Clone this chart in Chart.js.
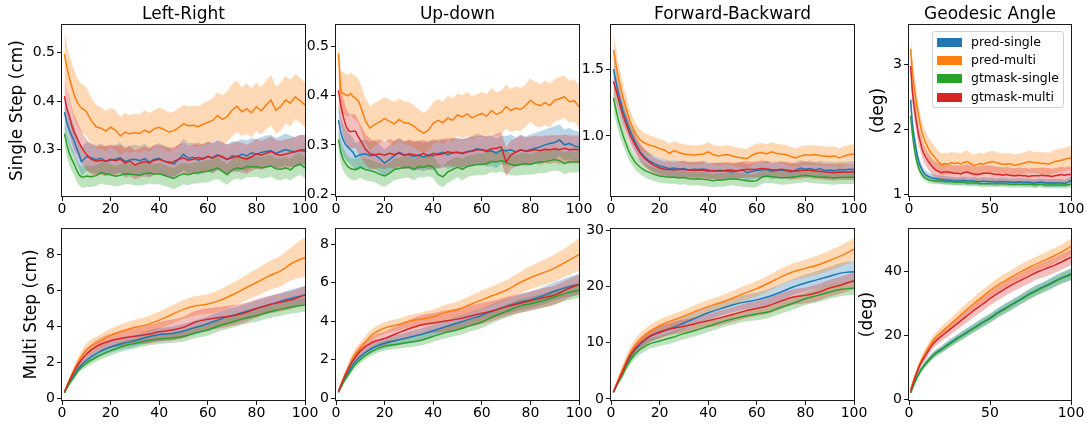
<!DOCTYPE html>
<html>
<head>
<meta charset="utf-8">
<script src="https://cdn.jsdelivr.net/npm/chart.js@4.4.1/dist/chart.umd.min.js"></script>
<style>
  html, body { margin: 0; padding: 0; background: #fff; }
  body { width: 1087px; height: 424px; position: relative; overflow: hidden; font-family: 'DejaVu Sans', sans-serif; }
  canvas { position: absolute; }
  .ptitle { position: absolute; top: 3px; width: 260px; height: 20px; line-height: 20px; font-size: 17px; text-align: center; color: #000; }
  #legend { position: absolute; left: 932px; top: 31px; width: 132px; height: 77px; box-sizing: border-box; border: 1px solid #d2d2d2; border-radius: 3px; background: rgba(255,255,255,0.85); z-index: 5; }
  .lpatch { position: absolute; left: 4px; width: 25px; height: 9px; }
  .ltext { position: absolute; left: 38px; height: 14px; line-height: 14px; font-size: 12.5px; color: #000; white-space: nowrap; }
</style>
</head>
<body>
<script>
// ---------------- categories / labels ----------------
const seriesNames = ['pred-single', 'pred-multi', 'gtmask-single', 'gtmask-multi'];
const seriesColors = ['#1f77b4', '#ff7f0e', '#2ca02c', '#d62728'];
const panelTitles = ['Left-Right', 'Up-down', 'Forward-Backward', 'Geodesic Angle'];
const rowLabels = ['Single Step (cm)', 'Multi Step (cm)'];
const angleLabel = '(deg)';

// ---------------- tick values ----------------
const xTicks20 = [0, 20, 40, 60, 80, 100];
const xTicks50 = [0, 50, 100];
const lrTopTicks = [0.3, 0.4, 0.5];
const udTopTicks = [0.2, 0.3, 0.4, 0.5];
const fbTopTicks = [1.0, 1.5];
const gaTopTicks = [1, 2, 3];
const lrBotTicks = [0, 2, 4, 6, 8];
const udBotTicks = [0, 2, 4, 6, 8];
const fbBotTicks = [0, 10, 20, 30];
const gaBotTicks = [0, 20, 40];

// ---------------- x steps ----------------
const topSteps = [1,2,3,4,5,6,7,8,9,10,
  12,14,16,18,20, 22,24,26,28,30, 32,34,36,38,40, 42,44,46,48,50, 52,54,56,58,60,
  62,64,66,68,70, 72,74,76,78,80, 82,84,86,88,90, 92,94,96,98,100];
const botSteps = [1,3,5,7,10,15,20,25,30,35,40,45,50,55,60,65,70,75,80,85,90,95,100];

// ================= SINGLE STEP: Left-Right =================
const lrPredSingle = [.377,.355,.34,.328,.318,.303,.29,.275,.28,.285,
  .283,.279,.282,.276,.278, .28,.283,.275,.279,.28, .277,.281,.274,.28,.282, .276,.274,.27,.28,.29,
  .282,.284,.278,.282,.285, .283,.289,.284,.279,.287, .285,.29,.287,.293,.29, .294,.296,.298,.292,.296,
  .3,.297,.295,.298,.296];
const lrPredSingleSd = [.035,.034,.033,.032,.031,.030,.030,.030,.030,.030,
  .030,.029,.030,.030,.029, .030,.031,.030,.029,.030, .030,.031,.030,.030,.031, .032,.031,.030,.031,.032,
  .031,.030,.031,.030,.031, .031,.032,.030,.031,.030, .032,.031,.032,.030,.031, .032,.033,.032,.031,.032,
  .033,.032,.031,.032,.033];
const lrPredMulti = [.497,.47,.448,.43,.413,.4,.392,.385,.383,.378,
  .36,.347,.344,.338,.346, .34,.328,.336,.332,.335, .333,.34,.335,.343,.346, .341,.336,.339,.345,.353,
  .349,.35,.347,.352,.356, .36,.37,.362,.368,.381, .389,.378,.384,.376,.388, .38,.392,.402,.381,.389,
  .402,.396,.409,.401,.392];
const lrPredMultiSd = [.046,.047,.048,.049,.050,.050,.050,.050,.050,.050,
  .047,.045,.043,.042,.040, .041,.039,.040,.039,.039, .040,.041,.040,.039,.040, .041,.040,.039,.040,.039,
  .040,.041,.042,.043,.044, .046,.048,.050,.052,.054, .053,.050,.052,.051,.050, .049,.050,.052,.049,.050,
  .049,.048,.047,.046,.046];
const lrGtSingle = [.333,.31,.292,.28,.27,.258,.248,.243,.243,.245,
  .244,.246,.252,.25,.248, .245,.247,.25,.249,.248, .247,.25,.252,.249,.25, .247,.243,.24,.246,.25,
  .248,.251,.252,.254,.255, .258,.262,.255,.248,.258, .262,.26,.265,.264,.265, .262,.264,.266,.26,.259,
  .262,.258,.266,.27,.262];
const lrGtSingleSd = [.025,.025,.024,.024,.023,.023,.022,.022,.022,.022,
  .022,.021,.022,.023,.022, .021,.022,.022,.021,.022, .022,.023,.022,.021,.022, .022,.021,.022,.023,.022,
  .022,.021,.022,.022,.023, .022,.023,.022,.021,.022, .022,.023,.022,.022,.021, .022,.023,.022,.022,.023,
  .022,.022,.023,.022,.022];
const lrGtMulti = [.41,.385,.37,.35,.335,.325,.315,.305,.297,.29,
  .28,.276,.278,.276,.28, .277,.28,.272,.276,.268, .272,.275,.272,.278,.28, .276,.272,.275,.28,.283,
  .278,.28,.284,.28,.286, .282,.288,.285,.28,.283, .286,.283,.28,.285,.291, .288,.292,.296,.29,.288,
  .29,.293,.296,.299,.3];
const lrGtMultiSd = [.040,.039,.038,.037,.036,.035,.034,.033,.032,.032,
  .031,.030,.030,.031,.030, .030,.029,.030,.031,.030, .030,.031,.030,.030,.029, .030,.031,.030,.030,.031,
  .030,.030,.031,.030,.030, .031,.030,.030,.031,.030, .030,.031,.030,.030,.031, .030,.030,.031,.030,.030,
  .031,.030,.030,.031,.030];

// ================= SINGLE STEP: Up-down =================
const udPredSingle = [.351,.325,.31,.3,.295,.29,.285,.275,.278,.28,
  .282,.278,.28,.272,.263, .27,.278,.285,.28,.28, .276,.28,.275,.28,.278, .282,.285,.28,.284,.285,
  .282,.286,.288,.292,.29, .286,.288,.283,.29,.288, .29,.285,.29,.287,.29, .293,.296,.3,.303,.305,
  .31,.3,.303,.298,.295];
const udPredSingleSd = [.034,.033,.032,.031,.030,.030,.029,.029,.029,.029,
  .029,.028,.029,.029,.028, .029,.030,.029,.028,.029, .029,.030,.029,.029,.030, .029,.028,.029,.030,.029,
  .030,.029,.030,.031,.030, .030,.031,.030,.029,.030, .031,.030,.031,.030,.031, .031,.032,.031,.032,.033,
  .032,.031,.032,.031,.032];
const udPredMulti = [.486,.408,.405,.402,.4,.405,.398,.395,.39,.38,
  .35,.334,.342,.347,.354, .348,.343,.352,.345,.344, .338,.33,.324,.33,.344, .35,.345,.355,.35,.361,
  .357,.363,.355,.36,.364, .358,.37,.362,.366,.378, .37,.375,.372,.38,.391, .383,.38,.386,.38,.391,
  .394,.398,.388,.39,.378];
const udPredMultiSd = [.042,.042,.043,.043,.042,.043,.044,.045,.045,.046,
  .046,.045,.044,.044,.043, .044,.045,.043,.044,.044, .043,.042,.041,.042,.043, .044,.043,.045,.044,.043,
  .044,.045,.044,.043,.044, .045,.046,.045,.044,.045, .044,.045,.044,.043,.044, .045,.044,.045,.044,.043,
  .044,.043,.042,.043,.044];
const udGtSingle = [.311,.285,.27,.262,.255,.252,.25,.25,.252,.255,
  .25,.248,.245,.24,.237, .242,.25,.252,.254,.255, .25,.256,.254,.258,.255, .24,.235,.245,.25,.255,
  .25,.256,.258,.26,.26, .262,.266,.265,.268,.265, .26,.258,.26,.262,.26, .263,.265,.266,.268,.27,
  .268,.262,.266,.265,.266];
const udGtSingleSd = [.024,.024,.023,.023,.022,.022,.022,.022,.022,.022,
  .022,.022,.021,.022,.022, .021,.022,.022,.021,.022, .022,.022,.021,.022,.022, .022,.021,.022,.022,.021,
  .022,.022,.021,.022,.022, .022,.021,.022,.022,.023, .022,.021,.022,.022,.021, .022,.022,.023,.022,.022,
  .021,.022,.022,.021,.022];
const udGtMulti = [.411,.38,.357,.34,.33,.327,.328,.328,.318,.31,
  .292,.282,.28,.282,.279, .283,.28,.284,.278,.282, .28,.278,.283,.277,.283, .28,.282,.286,.284,.285,
  .283,.286,.287,.29,.29, .288,.292,.293,.296,.265, .28,.285,.29,.287,.288, .29,.288,.291,.29,.292,
  .29,.293,.29,.291,.29];
const udGtMultiSd = [.040,.039,.038,.037,.036,.035,.035,.034,.033,.032,
  .031,.030,.029,.029,.028, .029,.028,.029,.028,.029, .028,.029,.028,.028,.029, .028,.029,.028,.029,.028,
  .029,.028,.029,.028,.029, .029,.028,.029,.030,.030, .029,.028,.029,.028,.029, .028,.029,.028,.029,.028,
  .029,.028,.029,.028,.029];

// ================= SINGLE STEP: Forward-Backward =================
const fbPredSingle = [1.5,1.41,1.32,1.25,1.18,1.13,1.08,1.03,.99,.95,
  .88,.84,.81,.79,.775, .765,.755,.76,.75,.755, .745,.75,.748,.752,.745, .735,.742,.74,.735,.73,
  .74,.745,.725,.735,.74, .745,.75,.735,.74,.745, .74,.73,.745,.76,.75, .755,.745,.755,.74,.745,
  .74,.748,.745,.75,.748];
const fbPredSingleSd = [.110,.100,.095,.090,.085,.080,.075,.070,.068,.066,
  .064,.062,.061,.060,.060, .060,.059,.060,.061,.060, .059,.060,.060,.061,.060, .059,.060,.061,.060,.059,
  .060,.061,.060,.059,.060, .061,.060,.060,.059,.060, .061,.060,.059,.060,.061, .060,.060,.059,.060,.061,
  .060,.059,.060,.060,.060];
const fbPredMulti = [1.644,1.54,1.437,1.36,1.285,1.22,1.159,1.1,1.06,1.02,
  .97,.945,.93,.92,.905, .895,.87,.89,.875,.865, .86,.855,.86,.865,.88, .86,.85,.855,.86,.85,
  .84,.835,.83,.855,.87, .875,.865,.88,.87,.865, .86,.845,.835,.85,.858, .855,.86,.852,.85,.845,
  .85,.835,.85,.86,.865];
const fbPredMultiSd = [.130,.120,.115,.110,.100,.095,.090,.085,.080,.078,
  .076,.074,.073,.072,.072, .071,.072,.073,.072,.071, .072,.073,.072,.071,.072, .073,.072,.071,.072,.073,
  .072,.071,.072,.073,.072, .071,.072,.073,.072,.071, .072,.073,.072,.071,.072, .073,.072,.071,.072,.073,
  .072,.071,.072,.073,.072];
const fbGtSingle = [1.285,1.2,1.12,1.06,1.0,.95,.9,.86,.83,.8,
  .765,.74,.725,.71,.7, .695,.69,.692,.685,.688, .68,.678,.68,.675,.672, .665,.672,.67,.675,.68,
  .675,.67,.665,.66,.665, .69,.7,.695,.69,.685, .688,.69,.695,.7,.705, .7,.695,.69,.692,.688,
  .685,.688,.69,.688,.69];
const fbGtSingleSd = [.100,.090,.085,.080,.075,.070,.065,.060,.058,.055,
  .053,.052,.051,.050,.050, .050,.049,.050,.051,.050, .049,.050,.050,.051,.050, .049,.050,.051,.050,.049,
  .050,.051,.050,.049,.050, .051,.050,.050,.049,.050, .051,.050,.049,.050,.051, .050,.050,.049,.050,.051,
  .050,.049,.050,.050,.050];
const fbGtMulti = [1.41,1.345,1.28,1.21,1.15,1.1,1.05,1.0,.965,.93,
  .87,.83,.8,.775,.76, .75,.748,.745,.75,.748, .745,.74,.745,.742,.735, .74,.735,.738,.745,.742,
  .738,.745,.75,.748,.75, .755,.752,.748,.745,.75, .745,.74,.735,.74,.745, .742,.738,.735,.73,.728,
  .725,.73,.728,.73,.73];
const fbGtMultiSd = [.100,.095,.090,.085,.080,.075,.072,.070,.068,.065,
  .063,.062,.061,.060,.060, .060,.059,.060,.061,.060, .059,.060,.060,.061,.060, .059,.060,.061,.060,.059,
  .060,.061,.060,.059,.060, .061,.060,.060,.059,.060, .061,.060,.059,.060,.061, .060,.060,.059,.060,.061,
  .060,.059,.060,.060,.060];

// ================= SINGLE STEP: Geodesic Angle =================
const gaPredSingle = [2.45,2.1,1.9,1.75,1.6,1.5,1.43,1.38,1.33,1.3,
  1.27,1.25,1.24,1.23,1.22, 1.22,1.21,1.21,1.2,1.2, 1.2,1.21,1.2,1.2,1.2, 1.19,1.19,1.2,1.19,1.19,
  1.19,1.18,1.19,1.19,1.19, 1.18,1.18,1.18,1.19,1.18, 1.18,1.18,1.17,1.17,1.18, 1.18,1.17,1.17,1.17,1.17,
  1.17,1.17,1.16,1.18,1.21];
const gaPredSingleSd = [.18,.15,.13,.11,.10,.09,.08,.075,.07,.065,
  .063,.062,.061,.06,.06, .06,.06,.061,.06,.06, .061,.06,.06,.06,.061, .06,.06,.061,.06,.06,
  .06,.061,.06,.06,.06, .061,.06,.06,.061,.06, .06,.06,.061,.06,.06, .061,.06,.06,.06,.061,
  .06,.06,.061,.06,.062];
const gaPredMulti = [3.23,2.9,2.68,2.5,2.33,2.2,2.06,1.95,1.87,1.8,
  1.7,1.62,1.56,1.5,1.45, 1.47,1.46,1.48,1.47,1.48, 1.46,1.49,1.5,1.47,1.44, 1.45,1.47,1.46,1.48,1.49,
  1.5,1.48,1.47,1.46,1.46, 1.47,1.45,1.44,1.46,1.47, 1.48,1.5,1.49,1.48,1.48, 1.47,1.47,1.46,1.48,1.5,
  1.51,1.52,1.53,1.55,1.55];
const gaPredMultiSd = [.26,.24,.22,.20,.19,.18,.175,.17,.17,.17,
  .17,.17,.17,.17,.17, .165,.165,.17,.165,.16, .165,.17,.165,.16,.165, .17,.165,.16,.165,.17,
  .165,.16,.165,.17,.165, .16,.165,.17,.165,.16, .165,.17,.17,.165,.17, .17,.175,.17,.175,.18,
  .18,.185,.18,.185,.19];
const gaGtSingle = [2.2,1.95,1.75,1.6,1.48,1.4,1.34,1.3,1.27,1.25,
  1.22,1.21,1.2,1.2,1.2, 1.19,1.19,1.19,1.18,1.18, 1.18,1.18,1.17,1.17,1.17, 1.17,1.16,1.16,1.16,1.16,
  1.16,1.16,1.16,1.16,1.16, 1.15,1.15,1.15,1.15,1.15, 1.15,1.15,1.15,1.14,1.15, 1.15,1.14,1.14,1.14,1.14,
  1.14,1.14,1.14,1.14,1.15];
const gaGtSingleSd = [.15,.12,.10,.085,.075,.065,.06,.055,.055,.05,
  .05,.05,.05,.05,.05, .05,.05,.051,.05,.05, .05,.051,.05,.05,.05, .051,.05,.05,.05,.051,
  .05,.05,.051,.05,.05, .05,.051,.05,.05,.05, .051,.05,.05,.05,.051, .05,.05,.051,.05,.05,
  .05,.051,.05,.05,.05];
const gaGtMulti = [2.97,2.6,2.38,2.2,2.04,1.9,1.8,1.7,1.63,1.58,
  1.5,1.43,1.38,1.35,1.33, 1.34,1.34,1.33,1.32,1.32, 1.31,1.33,1.34,1.32,1.31, 1.3,1.31,1.32,1.32,1.32,
  1.31,1.3,1.3,1.29,1.3, 1.29,1.28,1.28,1.29,1.28, 1.28,1.27,1.28,1.28,1.28, 1.29,1.28,1.28,1.27,1.28,
  1.29,1.3,1.29,1.3,1.3];
const gaGtMultiSd = [.22,.20,.18,.17,.16,.15,.14,.135,.13,.13,
  .125,.12,.12,.12,.12, .12,.12,.121,.12,.12, .12,.121,.12,.12,.12, .121,.12,.12,.12,.121,
  .12,.12,.121,.12,.12, .12,.121,.12,.12,.12, .121,.12,.12,.12,.121, .12,.12,.121,.12,.12,
  .12,.121,.12,.12,.12];

// ================= MULTI STEP: Left-Right =================
const msLrPredSingle = [.3,.85,1.3,1.7,2.1,2.55,2.85,3.05,3.2,3.4,3.55,3.6,3.75,3.95,4.15,4.4,4.6,4.8,5.0,5.2,5.4,5.6,5.75];
const msLrPredSingleSd = [.04,.1,.15,.2,.25,.28,.3,.32,.33,.35,.36,.37,.38,.4,.41,.42,.43,.44,.45,.46,.47,.48,.5];
const msLrPredMulti = [.35,1.0,1.58,2.1,2.7,3.13,3.5,3.75,3.95,4.1,4.35,4.65,4.95,5.15,5.25,5.45,5.75,6.1,6.45,6.8,7.1,7.55,7.85];
const msLrPredMultiSd = [.05,.15,.22,.28,.33,.36,.38,.4,.42,.45,.48,.5,.52,.54,.55,.6,.65,.7,.75,.8,.85,.95,1.1];
const msLrGtSingle = [.3,.8,1.2,1.6,1.95,2.35,2.65,2.9,3.05,3.2,3.3,3.35,3.45,3.65,3.8,4.05,4.25,4.45,4.6,4.8,4.95,5.1,5.2];
const msLrGtSingleSd = [.04,.1,.15,.18,.22,.25,.27,.28,.28,.28,.28,.28,.29,.3,.3,.31,.32,.33,.34,.35,.36,.37,.38];
const msLrGtMulti = [.35,.95,1.5,1.95,2.45,2.95,3.2,3.35,3.45,3.55,3.7,3.8,3.95,4.25,4.4,4.5,4.6,4.75,5.0,5.2,5.35,5.5,5.75];
const msLrGtMultiSd = [.05,.12,.2,.25,.3,.35,.38,.42,.45,.5,.55,.58,.6,.62,.62,.6,.58,.55,.52,.5,.5,.5,.5];

// ================= MULTI STEP: Up-down =================
const msUdPredSingle = [.3,.85,1.3,1.75,2.15,2.6,2.85,3.0,3.15,3.3,3.5,3.7,3.9,4.1,4.3,4.55,4.75,4.95,5.1,5.3,5.55,5.75,5.9];
const msUdPredSingleSd = [.04,.1,.15,.2,.22,.25,.27,.28,.3,.31,.32,.33,.34,.35,.36,.37,.38,.4,.42,.44,.46,.5,.55];
const msUdPredMulti = [.35,1.0,1.55,2.1,2.6,3.3,3.64,3.8,3.98,4.1,4.22,4.45,4.6,4.85,5.1,5.35,5.6,5.95,6.25,6.5,6.75,7.1,7.45];
const msUdPredMultiSd = [.05,.15,.22,.28,.3,.3,.3,.3,.32,.35,.38,.4,.42,.45,.48,.5,.52,.55,.6,.65,.7,.75,.85];
const msUdGtSingle = [.3,.8,1.2,1.6,2.0,2.45,2.7,2.8,2.9,3.0,3.2,3.4,3.55,3.75,3.95,4.25,4.5,4.75,4.9,5.05,5.25,5.45,5.6];
const msUdGtSingleSd = [.04,.1,.14,.18,.2,.22,.24,.25,.26,.27,.28,.29,.3,.3,.31,.32,.33,.34,.35,.36,.37,.38,.4];
const msUdGtMulti = [.35,.95,1.5,1.95,2.45,2.9,3.1,3.35,3.6,3.8,3.9,4.0,4.1,4.25,4.4,4.55,4.75,4.9,5.05,5.2,5.35,5.65,5.9];
const msUdGtMultiSd = [.05,.12,.2,.25,.3,.33,.36,.4,.45,.5,.52,.55,.55,.55,.55,.52,.5,.5,.5,.5,.5,.5,.5];

// ================= MULTI STEP: Forward-Backward =================
const msFbPredSingle = [1.2,3.2,5.0,6.8,8.8,10.8,11.9,12.6,13.5,14.4,15.3,16.0,16.7,17.2,17.6,18.2,19.0,19.9,20.6,21.2,21.8,22.4,22.6];
const msFbPredSingleSd = [.2,.4,.6,.8,.9,1.0,1.0,1.0,1.1,1.1,1.2,1.2,1.3,1.3,1.3,1.4,1.4,1.4,1.5,1.6,1.7,1.8,1.9];
const msFbPredMulti = [1.2,3.5,5.5,7.4,9.6,11.7,13.0,13.9,14.7,15.6,16.4,17.1,17.9,18.8,19.6,20.6,21.7,22.6,23.2,23.8,24.6,25.5,26.6];
const msFbPredMultiSd = [.2,.5,.8,1.0,1.1,1.1,1.1,1.1,1.1,1.2,1.2,1.2,1.3,1.3,1.4,1.4,1.5,1.5,1.6,1.7,1.8,1.9,2.0];
const msFbGtSingle = [1.2,2.9,4.5,6.2,8.0,9.6,10.3,10.9,11.6,12.2,12.9,13.6,14.2,14.7,15.1,15.5,16.3,17.0,17.8,18.4,19.0,19.5,19.7];
const msFbGtSingleSd = [.2,.4,.6,.7,.8,.9,.9,1.0,1.0,1.0,1.0,1.0,1.0,1.0,1.1,1.1,1.1,1.1,1.1,1.2,1.2,1.2,1.2];
const msFbGtMulti = [1.2,3.2,5.0,7.0,9.0,10.9,11.8,12.5,12.9,13.4,13.9,14.4,15.0,15.6,16.1,16.6,17.4,18.1,18.4,18.9,19.7,20.3,21.0];
const msFbGtMultiSd = [.2,.4,.6,.8,.9,1.0,1.1,1.1,1.2,1.2,1.2,1.3,1.3,1.3,1.3,1.4,1.4,1.4,1.4,1.5,1.5,1.5,1.5];

// ================= MULTI STEP: Geodesic Angle =================
const msGaPredSingle = [2.1,4.8,7.1,9.0,11.1,13.9,15.7,17.5,19.2,20.8,22.4,24.0,25.5,27.2,28.7,30.2,31.7,33.2,34.5,35.7,37.0,38.2,39.2];
const msGaPredSingleSd = [.3,.5,.7,.8,.9,1.0,1.1,1.2,1.2,1.3,1.3,1.4,1.4,1.4,1.5,1.5,1.5,1.6,1.6,1.6,1.7,1.7,1.8];
const msGaPredMulti = [3.0,6.2,9.0,11.5,14.5,18.5,21.0,23.2,25.5,27.8,30.0,32.0,34.0,35.8,37.3,38.8,40.2,41.5,42.7,43.8,45.0,46.3,47.8];
const msGaPredMultiSd = [.3,.6,.9,1.1,1.3,1.5,1.7,1.8,1.9,2.0,2.0,2.1,2.1,2.2,2.2,2.2,2.3,2.3,2.3,2.4,2.4,2.4,2.5];
const msGaGtSingle = [2.0,4.6,6.9,8.8,10.9,13.7,15.5,17.3,19.0,20.6,22.2,23.8,25.3,27.0,28.5,30.0,31.5,33.0,34.3,35.5,36.8,38.0,39.0];
const msGaGtSingleSd = [.3,.5,.7,.8,.9,1.0,1.1,1.2,1.2,1.3,1.3,1.4,1.4,1.4,1.5,1.5,1.5,1.6,1.6,1.6,1.7,1.7,1.8];
const msGaGtMulti = [2.5,5.7,8.5,11.0,13.5,17.5,19.8,21.8,23.8,25.8,27.8,29.6,31.5,33.2,34.8,36.2,37.5,38.8,40.0,41.0,42.0,43.2,44.5];
const msGaGtMultiSd = [.3,.6,.9,1.1,1.3,1.5,1.7,1.8,1.9,2.0,2.0,2.1,2.1,2.2,2.2,2.2,2.3,2.3,2.3,2.4,2.4,2.4,2.5];

// ---------------- layout of the 8 panels ----------------
const FONT = "'DejaVu Sans', sans-serif";
const colGeom = [ {L: 62, W: 243, wl: 62}, {L: 336, W: 243, wl: 40}, {L: 611, W: 243, wl: 40}, {L: 909, W: 162, wl: 54} ];
const rowGeom = [ {canvasTop: 0, padTop: 25, plotH: 171, xh: 28, smooth: false}, {canvasTop: 200, padTop: 29, plotH: 171, xh: 24, smooth: true} ];
const PAD_R = 16;

const panels = [
  {row:0, col:0, steps:topSteps, means:[lrPredSingle,lrPredMulti,lrGtSingle,lrGtMulti], sds:[lrPredSingleSd,lrPredMultiSd,lrGtSingleSd,lrGtMultiSd], ymin:0.204, ymax:0.557, yt:lrTopTicks, dec:1, xt:xTicks20, ylabel:rowLabels[0], tpad:7.3},
  {row:0, col:1, steps:topSteps, means:[udPredSingle,udPredMulti,udGtSingle,udGtMulti], sds:[udPredSingleSd,udPredMultiSd,udGtSingleSd,udGtMultiSd], ymin:0.196, ymax:0.544, yt:udTopTicks, dec:1, xt:xTicks20},
  {row:0, col:2, steps:topSteps, means:[fbPredSingle,fbPredMulti,fbGtSingle,fbGtMulti], sds:[fbPredSingleSd,fbPredMultiSd,fbGtSingleSd,fbGtMultiSd], ymin:0.55, ymax:1.83, yt:fbTopTicks, dec:1, xt:xTicks20},
  {row:0, col:3, steps:topSteps, means:[gaPredSingle,gaPredMulti,gaGtSingle,gaGtMulti], sds:[gaPredSingleSd,gaPredMultiSd,gaGtSingleSd,gaGtMultiSd], ymin:0.97, ymax:3.6, yt:gaTopTicks, dec:0, xt:xTicks50, ylabel:angleLabel, tpad:13.8},
  {row:1, col:0, steps:botSteps, means:[msLrPredSingle,msLrPredMulti,msLrGtSingle,msLrGtMulti], sds:[msLrPredSingleSd,msLrPredMultiSd,msLrGtSingleSd,msLrGtMultiSd], ymin:-0.1, ymax:9.43, yt:lrBotTicks, dec:0, xt:xTicks20, ylabel:rowLabels[1], tpad:21.8},
  {row:1, col:1, steps:botSteps, means:[msUdPredSingle,msUdPredMulti,msUdGtSingle,msUdGtMulti], sds:[msUdPredSingleSd,msUdPredMultiSd,msUdGtSingleSd,msUdGtMultiSd], ymin:-0.1, ymax:8.78, yt:udBotTicks, dec:0, xt:xTicks20},
  {row:1, col:2, steps:botSteps, means:[msFbPredSingle,msFbPredMulti,msFbGtSingle,msFbGtMulti], sds:[msFbPredSingleSd,msFbPredMultiSd,msFbGtSingleSd,msFbGtMultiSd], ymin:-0.2, ymax:30.2, yt:fbBotTicks, dec:0, xt:xTicks20},
  {row:1, col:3, steps:botSteps, means:[msGaPredSingle,msGaPredMulti,msGaGtSingle,msGaGtMulti], sds:[msGaPredSingleSd,msGaPredMultiSd,msGaGtSingleSd,msGaGtMultiSd], ymin:-0.2, ymax:53.3, yt:gaBotTicks, dec:0, xt:xTicks50, ylabel:angleLabel, tpad:2.8}
];

function rgba(hex, a) {
  const n = parseInt(hex.slice(1), 16);
  return 'rgba(' + ((n >> 16) & 255) + ',' + ((n >> 8) & 255) + ',' + (n & 255) + ',' + a + ')';
}

const framePlugin = {
  id: 'frame',
  afterDatasetsDraw(chart) {
    const { ctx, chartArea: a } = chart;
    ctx.save();
    ctx.strokeStyle = '#1a1a1a';
    ctx.lineWidth = 1;
    ctx.strokeRect(a.left - 0.5, a.top - 0.5, a.right - a.left + 1, a.bottom - a.top + 1);
    ctx.restore();
  }
};

function buildDatasets(p, smooth) {
  const ds = [];
  const curve = smooth ? { cubicInterpolationMode: 'monotone' } : { tension: 0 };
  p.means.forEach((m, k) => {
    const c = seriesColors[k];
    const sd = p.sds[k];
    ds.push(Object.assign({ label: seriesNames[k] + ' lo', data: p.steps.map((x, i) => ({ x, y: m[i] - sd[i] })),
      borderWidth: 0, pointRadius: 0, fill: false, order: 40 - k }, curve));
    ds.push(Object.assign({ label: seriesNames[k] + ' hi', data: p.steps.map((x, i) => ({ x, y: m[i] + sd[i] })),
      borderWidth: 0, pointRadius: 0, fill: '-1', backgroundColor: rgba(c, 0.3), order: 40 - k }, curve));
  });
  p.means.forEach((m, k) => {
    ds.push(Object.assign({ label: seriesNames[k], data: p.steps.map((x, i) => ({ x, y: m[i] })),
      borderColor: seriesColors[k], borderWidth: 1.5, pointRadius: 0, fill: false, order: 10 - k }, curve));
  });
  return ds;
}

function axisCommon() {
  return {
    grid: { display: true, drawOnChartArea: false, drawTicks: true, tickLength: 5, color: '#1a1a1a', lineWidth: 1 },
    border: { display: false }
  };
}

panels.forEach(p => {
  const cg = colGeom[p.col], rg = rowGeom[p.row];
  const cv = document.createElement('canvas');
  const w = cg.wl + cg.W + PAD_R;
  const h = rg.padTop + rg.plotH + rg.xh;
  cv.width = w; cv.height = h;
  cv.style.width = w + 'px'; cv.style.height = h + 'px';
  cv.style.left = (cg.L - cg.wl) + 'px';
  cv.style.top = rg.canvasTop + 'px';
  document.body.appendChild(cv);

  const xAxis = Object.assign(axisCommon(), {
    type: 'linear', min: 0, max: 100,
    afterBuildTicks: s => { s.ticks = p.xt.map(v => ({ value: v })); },
    afterFit: s => { s.height = rg.xh; },
    ticks: { color: '#000', font: { family: FONT, size: 14 }, padding: 0, maxRotation: 0, autoSkip: false,
      callback: v => String(v) }
  });
  const yAxis = Object.assign(axisCommon(), {
    type: 'linear', min: p.ymin, max: p.ymax,
    afterBuildTicks: s => { s.ticks = p.yt.map(v => ({ value: v })); },
    afterFit: s => { s.width = cg.wl; },
    ticks: { color: '#000', font: { family: FONT, size: 14 }, padding: 2, autoSkip: false,
      callback: v => Number(v).toFixed(p.dec) },
    title: { display: !!p.ylabel, text: p.ylabel || '', color: '#000', font: { family: FONT, size: 17 },
      padding: { top: p.tpad || 0, bottom: 0 } }
  });

  new Chart(cv, {
    type: 'line',
    data: { datasets: buildDatasets(p, rg.smooth) },
    options: {
      responsive: false, animation: false, devicePixelRatio: 1,
      layout: { padding: { left: 0, right: PAD_R, top: rg.padTop, bottom: 0 } },
      plugins: { legend: { display: false }, tooltip: { enabled: false }, filler: { propagate: false } },
      scales: { x: xAxis, y: yAxis }
    },
    plugins: [framePlugin]
  });
});

// titles
panelTitles.forEach((t, i) => {
  const d = document.createElement('div');
  d.className = 'ptitle';
  d.textContent = t;
  d.style.left = (colGeom[i].L + colGeom[i].W / 2 - 130) + 'px';
  document.body.appendChild(d);
});

// legend (inside Geodesic Angle single-step panel)
const leg = document.createElement('div');
leg.id = 'legend';
const rowCenters = [10, 28.4, 46.8, 65.2];
seriesNames.forEach((n, k) => {
  const pt = document.createElement('div');
  pt.className = 'lpatch';
  pt.style.top = (rowCenters[k] - 4.5) + 'px';
  pt.style.background = seriesColors[k];
  leg.appendChild(pt);
  const tx = document.createElement('div');
  tx.className = 'ltext';
  tx.style.top = (rowCenters[k] - 7.5) + 'px';
  tx.textContent = n;
  leg.appendChild(tx);
});
document.body.appendChild(leg);
</script>
</body>
</html>
